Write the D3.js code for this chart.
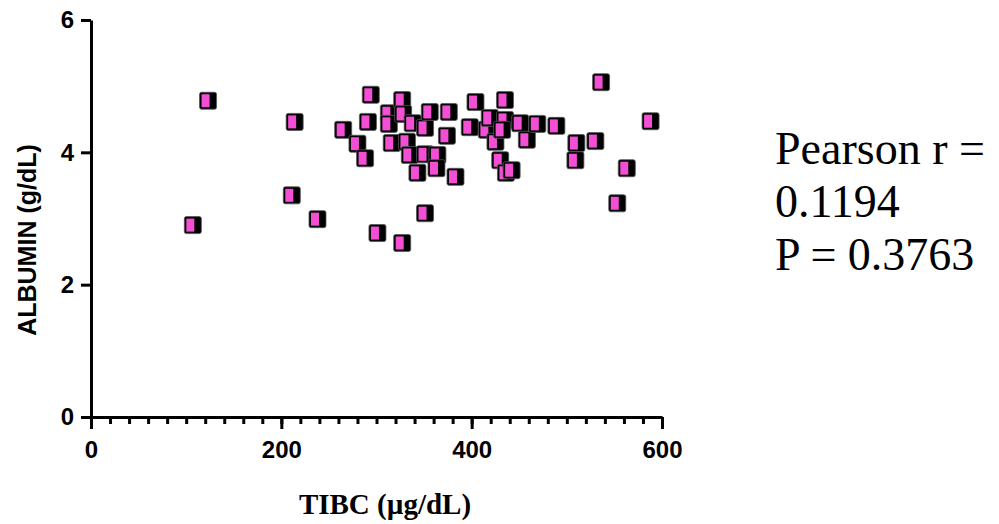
<!DOCTYPE html>
<html>
<head>
<meta charset="utf-8">
<script src="https://cdn.jsdelivr.net/npm/d3@7"></script>
<style>
  body { margin: 0; background: #fff; }
  svg { display: block; }
</style>
</head>
<body>
<div id="chart"></div>
<script>
// TIBC (ug/dL) vs ALBUMIN (g/dL)
const tibc = [107, 123, 211, 214, 238, 265, 280, 288, 294, 291, 301, 313, 313, 316, 327, 327,
  328, 338, 332, 335, 351, 351, 351, 343, 356, 364, 363, 374, 376, 383, 404, 398, 416, 419,
  425, 435, 435, 432, 430, 436, 442, 451, 458, 469, 489, 510, 509, 530, 536, 553, 563, 588];
const albumin = [2.90, 4.78, 3.35, 4.46, 2.99, 4.34, 4.13, 3.91, 4.87, 4.46, 2.78, 4.59, 4.43,
  4.14, 4.79, 2.63, 4.58, 4.44, 4.16, 3.96, 4.37, 3.97, 3.08, 3.69, 4.61, 3.96, 3.76, 4.25,
  4.61, 3.63, 4.76, 4.38, 4.34, 4.52, 4.16, 4.79, 4.49, 4.34, 3.88, 3.69, 3.73, 4.44, 4.19,
  4.43, 4.40, 4.14, 3.88, 4.17, 5.06, 3.23, 3.76, 4.47];

const xTicks = [0, 200, 400, 600];
const yTicks = [0, 2, 4, 6];
const statLines = ["Pearson r =", "0.1194", "P = 0.3763"];

const width = 999, height = 524;

const svg = d3.select("#chart").append("svg")
    .attr("width", width)
    .attr("height", height);

const x = d3.scaleLinear().domain([0, 600]).range([91, 662]);
const y = d3.scaleLinear().domain([0, 6]).range([417, 20]);

// minor ticks on x every 20
svg.append("g")
    .attr("transform", "translate(0,417)")
    .call(d3.axisBottom(x).tickValues(d3.range(0, 601, 20)).tickSize(7).tickFormat(""))
    .call(g => g.select(".domain").remove())
    .call(g => g.selectAll("line").attr("stroke", "#000").attr("stroke-width", 3));

const xAxis = svg.append("g")
    .attr("transform", "translate(0,417)")
    .call(d3.axisBottom(x).tickValues(xTicks).tickFormat(d3.format("d"))
      .tickSize(12).tickSizeOuter(0).tickPadding(12));

const yAxis = svg.append("g")
    .attr("transform", "translate(91,0)")
    .call(d3.axisLeft(y).tickValues(yTicks).tickFormat(d3.format("d"))
      .tickSize(10).tickSizeOuter(0).tickPadding(7));

[xAxis, yAxis].forEach(g => {
  g.select(".domain").attr("stroke", "#000").attr("stroke-width", 3);
  g.selectAll(".tick line").attr("stroke", "#000").attr("stroke-width", 3);
  g.selectAll(".tick text")
      .attr("fill", "#000")
      .style("font-family", "'Liberation Sans', Arial, sans-serif")
      .style("font-weight", "bold")
      .style("font-size", "24px");
});

// axis titles
svg.append("text")
    .attr("transform", "translate(36,240) rotate(-90)")
    .attr("text-anchor", "middle")
    .style("font-family", "'Liberation Sans', Arial, sans-serif")
    .style("font-weight", "bold")
    .style("font-size", "25px")
    .text("ALBUMIN (g/dL)");

svg.append("text")
    .attr("x", 385)
    .attr("y", 514)
    .attr("text-anchor", "middle")
    .style("font-family", "'Liberation Serif', 'Times New Roman', serif")
    .style("font-weight", "bold")
    .style("font-size", "29px")
    .text("TIBC (\u00b5g/dL)");

// points: black square with pink face on the left
const pts = svg.append("g").selectAll("g")
  .data(tibc.map((t, i) => [t, albumin[i]]))
  .enter()
  .append("g")
    .attr("transform", d => "translate(" + x(d[0]) + "," + y(d[1]) + ")");

pts.append("rect")
    .attr("x", -8.5).attr("y", -8.5)
    .attr("width", 17).attr("height", 17)
    .attr("rx", 2)
    .attr("fill", "#000")
    .attr("stroke", "#555")
    .attr("stroke-width", 0.8);

pts.append("rect")
    .attr("x", -6.5).attr("y", -6.5)
    .attr("width", 8).attr("height", 13)
    .attr("fill", "#f24fd4");

// stats text
svg.append("g").selectAll("text")
  .data(statLines)
  .enter()
  .append("text")
    .attr("x", 775)
    .attr("y", (d, i) => 164 + i * 53)
    .style("font-family", "'Liberation Serif', 'Times New Roman', serif")
    .style("font-size", "46px")
    .text(d => d);
</script>
</body>
</html>
